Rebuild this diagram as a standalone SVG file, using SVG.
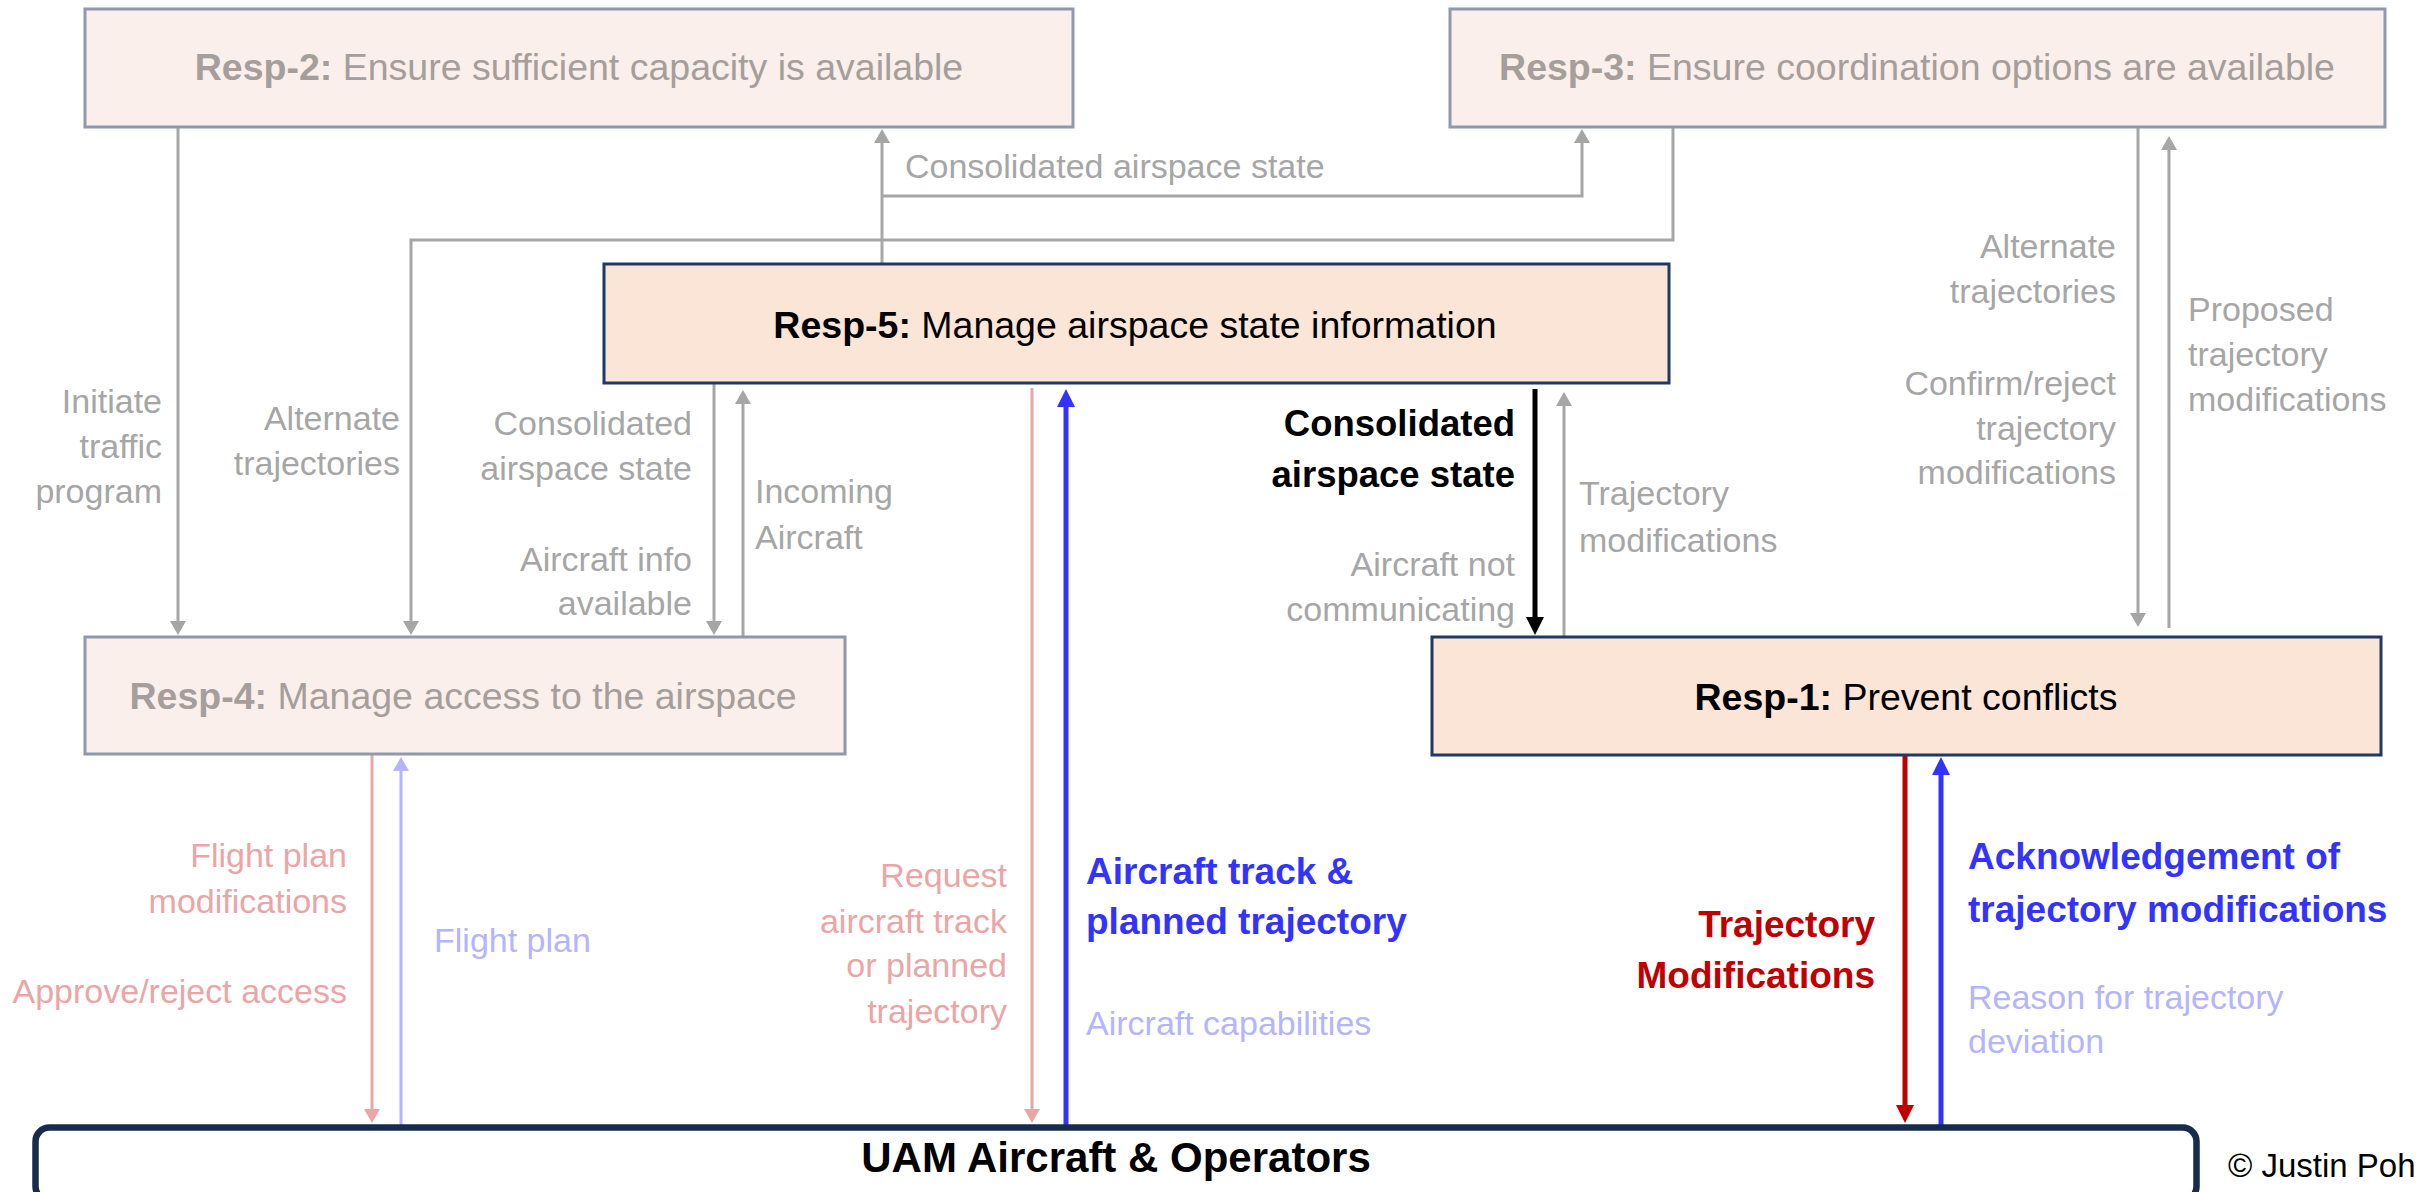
<svg xmlns="http://www.w3.org/2000/svg" width="2418" height="1192" viewBox="0 0 2418 1192">
<style>
.t{font-family:"Liberation Sans",Arial,sans-serif}
.lab{font-size:34px}
.bl-lab{font-size:37px;font-weight:bold}
.title{font-size:37.5px}
.b{font-weight:bold}
.gtx{fill:#A6A6A6}
.ptx{fill:#EBA5A5}
.lbtx{fill:#B4B4FF}
.btx{fill:#3333FF}
.rtx{fill:#C00000}
.ftx{fill:#A59E9B}
.boxf{fill:#FAEFEA;stroke:#8E98AE;stroke-width:3}
.boxa{fill:#FBE5D6;stroke:#1F3864;stroke-width:3}
.c{fill:none}
.g{stroke:#A6A6A6;stroke-width:3}
.pk{stroke:#EBA5A5;stroke-width:3}
.lb{stroke:#B4B4FF;stroke-width:3}
.bk{stroke:#000000;stroke-width:5}
.bu{stroke:#3333FF;stroke-width:5}
.rd{stroke:#C00000;stroke-width:5}
</style>
<defs>
<marker id="ag" markerUnits="userSpaceOnUse" markerWidth="14" markerHeight="16" refX="1" refY="8" orient="auto"><path d="M0,0 L14,8 L0,16 z" fill="#A6A6A6"/></marker>
<marker id="ap" markerUnits="userSpaceOnUse" markerWidth="14" markerHeight="16" refX="1" refY="8" orient="auto"><path d="M0,0 L14,8 L0,16 z" fill="#EBA5A5"/></marker>
<marker id="alb" markerUnits="userSpaceOnUse" markerWidth="14" markerHeight="16" refX="1" refY="8" orient="auto"><path d="M0,0 L14,8 L0,16 z" fill="#B4B4FF"/></marker>
<marker id="ak" markerUnits="userSpaceOnUse" markerWidth="18" markerHeight="18" refX="1" refY="9" orient="auto"><path d="M0,0 L18,9 L0,18 z" fill="#000000"/></marker>
<marker id="ab" markerUnits="userSpaceOnUse" markerWidth="18" markerHeight="18" refX="1" refY="9" orient="auto"><path d="M0,0 L18,9 L0,18 z" fill="#3333FF"/></marker>
<marker id="ar" markerUnits="userSpaceOnUse" markerWidth="18" markerHeight="18" refX="1" refY="9" orient="auto"><path d="M0,0 L18,9 L0,18 z" fill="#C00000"/></marker>
</defs>

<g id="connectors">
<path class="c g" d="M178,127 V622" marker-end="url(#ag)"/>
<path class="c g" d="M1673,127 V240 H411 V622" marker-end="url(#ag)"/>
<path class="c g" d="M882,264 V142" marker-end="url(#ag)"/>
<path class="c g" d="M882,196 H1582 V142" marker-end="url(#ag)"/>
<path class="c g" d="M714,383 V622" marker-end="url(#ag)"/>
<path class="c g" d="M743,637 V403" marker-end="url(#ag)"/>
<path class="c g" d="M1564,637 V405" marker-end="url(#ag)"/>
<path class="c g" d="M2138,127 V614" marker-end="url(#ag)"/>
<path class="c g" d="M2169,628 V149" marker-end="url(#ag)"/>
<path class="c bk" d="M1535,389 V618" marker-end="url(#ak)"/>
<path class="c pk" d="M1032,388 V1110" marker-end="url(#ap)"/>
<path class="c pk" d="M372,755 V1110" marker-end="url(#ap)"/>
<path class="c lb" d="M401,1125 V770" marker-end="url(#alb)"/>
<path class="c bu" d="M1066,1125 V406" marker-end="url(#ab)"/>
<path class="c rd" d="M1905,755 V1106" marker-end="url(#ar)"/>
<path class="c bu" d="M1941,1125 V774" marker-end="url(#ab)"/>
</g>

<g id="labels" class="t">
<text class="lab gtx" x="905" y="178">Consolidated airspace state</text>
<text class="lab gtx" text-anchor="end" x="162" y="413">Initiate</text>
<text class="lab gtx" text-anchor="end" x="162" y="458">traffic</text>
<text class="lab gtx" text-anchor="end" x="162" y="503">program</text>
<text class="lab gtx" text-anchor="end" x="400" y="430">Alternate</text>
<text class="lab gtx" text-anchor="end" x="400" y="475">trajectories</text>
<text class="lab gtx" text-anchor="end" x="692" y="435">Consolidated</text>
<text class="lab gtx" text-anchor="end" x="692" y="480">airspace state</text>
<text class="lab gtx" text-anchor="end" x="692" y="571">Aircraft info</text>
<text class="lab gtx" text-anchor="end" x="692" y="615">available</text>
<text class="lab gtx" x="755" y="503">Incoming</text>
<text class="lab gtx" x="755" y="549">Aircraft</text>
<text class="t b" font-size="36.5" text-anchor="end" x="1515" y="436">Consolidated</text>
<text class="t b" font-size="36.5" text-anchor="end" x="1515" y="487">airspace state</text>
<text class="lab gtx" text-anchor="end" x="1515" y="576">Aircraft not</text>
<text class="lab gtx" text-anchor="end" x="1515" y="621">communicating</text>
<text class="lab gtx" x="1579" y="505">Trajectory</text>
<text class="lab gtx" x="1579" y="552">modifications</text>
<text class="lab gtx" text-anchor="end" x="2116" y="258">Alternate</text>
<text class="lab gtx" text-anchor="end" x="2116" y="303">trajectories</text>
<text class="lab gtx" text-anchor="end" x="2116" y="395">Confirm/reject</text>
<text class="lab gtx" text-anchor="end" x="2116" y="440">trajectory</text>
<text class="lab gtx" text-anchor="end" x="2116" y="484">modifications</text>
<text class="lab gtx" x="2188" y="321">Proposed</text>
<text class="lab gtx" x="2188" y="366">trajectory</text>
<text class="lab gtx" x="2188" y="411">modifications</text>
<text class="lab ptx" text-anchor="end" x="347" y="867">Flight plan</text>
<text class="lab ptx" text-anchor="end" x="347" y="913">modifications</text>
<text class="lab ptx" text-anchor="end" x="347" y="1003">Approve/reject access</text>
<text class="lab lbtx" x="434" y="952">Flight plan</text>
<text class="lab ptx" text-anchor="end" x="1007" y="887">Request</text>
<text class="lab ptx" text-anchor="end" x="1007" y="933">aircraft track</text>
<text class="lab ptx" text-anchor="end" x="1007" y="977">or planned</text>
<text class="lab ptx" text-anchor="end" x="1007" y="1023">trajectory</text>
<text class="bl-lab btx" x="1086" y="884">Aircraft track &amp;</text>
<text class="bl-lab btx" x="1086" y="934">planned trajectory</text>
<text class="lab lbtx" x="1086" y="1035">Aircraft capabilities</text>
<text class="bl-lab rtx" text-anchor="end" x="1875" y="937">Trajectory</text>
<text class="bl-lab rtx" text-anchor="end" x="1875" y="988">Modifications</text>
<text class="bl-lab btx" x="1968" y="869">Acknowledgement of</text>
<text class="bl-lab btx" x="1968" y="922">trajectory modifications</text>
<text class="lab lbtx" x="1968" y="1009">Reason for trajectory</text>
<text class="lab lbtx" x="1968" y="1053">deviation</text>
<text class="t" font-size="33" fill="#000" x="2228" y="1177">© Justin Poh</text>
</g>

<g id="resp2">
<rect class="boxf" x="85" y="9" width="988" height="118"/>
<text class="t title ftx" text-anchor="middle" x="579" y="80"><tspan class="b">Resp-2:</tspan> Ensure sufficient capacity is available</text>
</g>
<g id="resp3">
<rect class="boxf" x="1450" y="9" width="935" height="118"/>
<text class="t title ftx" text-anchor="middle" x="1917" y="80"><tspan class="b">Resp-3:</tspan> Ensure coordination options are available</text>
</g>
<g id="resp5">
<rect class="boxa" x="604" y="264" width="1065" height="119"/>
<text class="t title" fill="#000" text-anchor="middle" x="1135" y="338"><tspan class="b">Resp-5:</tspan> Manage airspace state information</text>
</g>
<g id="resp4">
<rect class="boxf" x="85" y="637" width="760" height="117"/>
<text class="t title ftx" text-anchor="middle" x="463" y="709"><tspan class="b">Resp-4:</tspan> Manage access to the airspace</text>
</g>
<g id="resp1">
<rect class="boxa" x="1432" y="637" width="949" height="118"/>
<text class="t title" fill="#000" text-anchor="middle" x="1906" y="710"><tspan class="b">Resp-1:</tspan> Prevent conflicts</text>
</g>
<g id="uam">
<rect x="35.5" y="1127.5" width="2161" height="73" rx="14" fill="#FFFFFF" stroke="#172B4D" stroke-width="6.5"/>
<text class="t b" font-size="42" fill="#000" text-anchor="middle" x="1116" y="1172">UAM Aircraft &amp; Operators</text>
</g>
</svg>
